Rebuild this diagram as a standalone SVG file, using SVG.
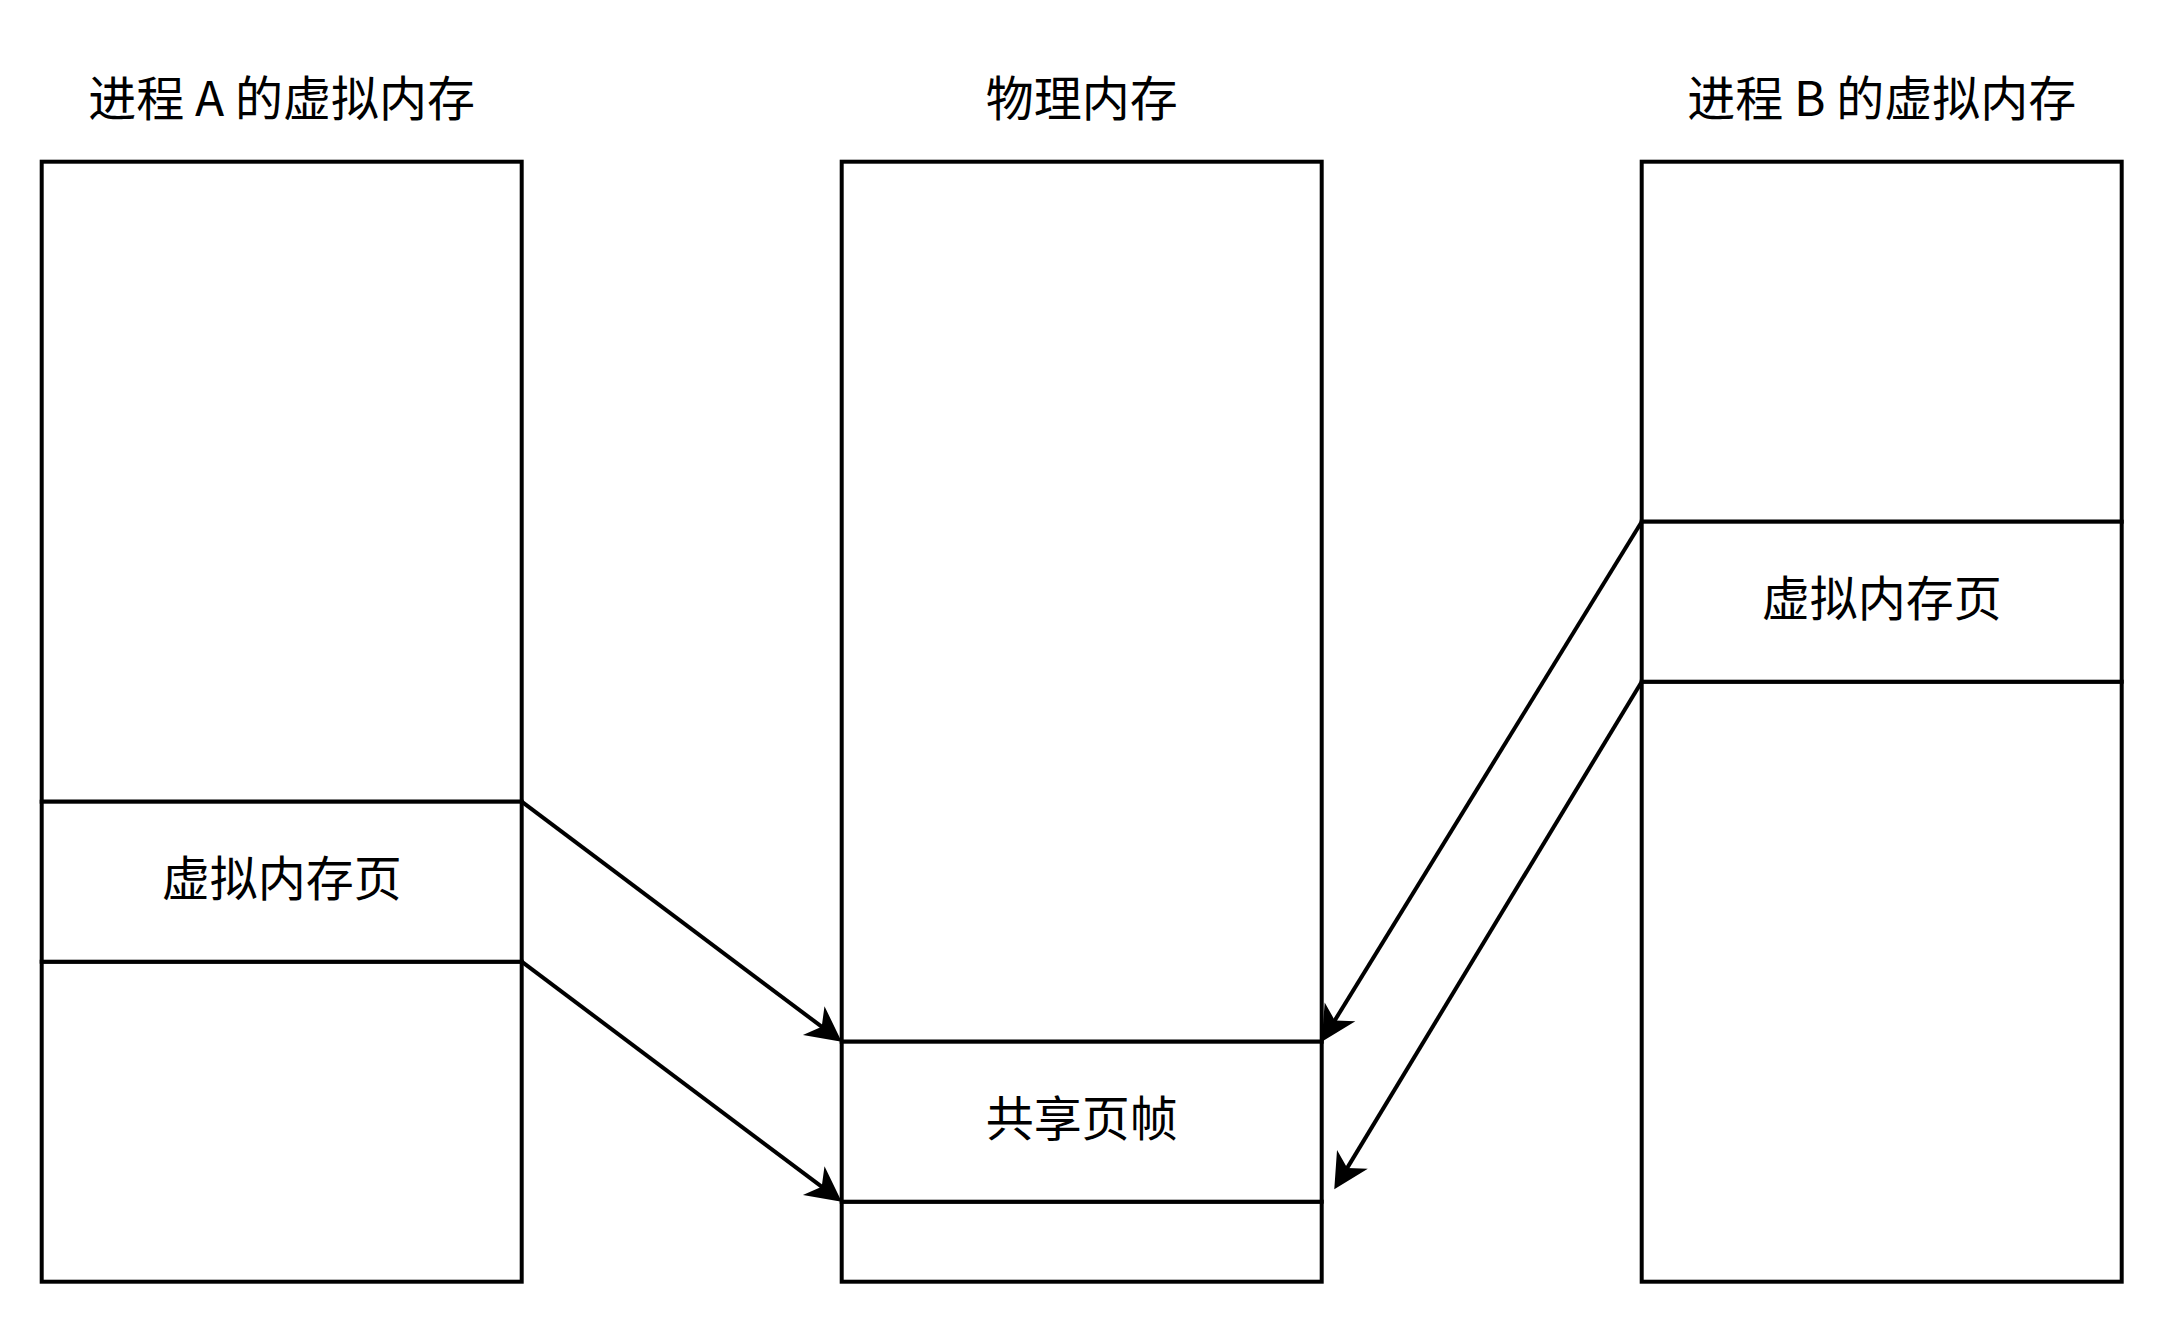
<svg xmlns="http://www.w3.org/2000/svg" width="2164" height="1324" viewBox="0 0 2164 1324">
<style>
.box{fill:#ffffff;stroke:#000000;stroke-width:4}
.lbl{font-family:"Noto Sans CJK SC","Noto Sans",sans-serif;font-size:48px;fill:#000000;text-anchor:middle}
.edge{fill:none;stroke:#000000;stroke-width:4;marker-end:url(#arrow)}
</style>
<defs>
<marker id="arrow" markerUnits="userSpaceOnUse" viewBox="-13 -19 38 38" markerWidth="38" markerHeight="38" refX="0" refY="0" orient="auto">
<path d="M23,0 L-12,-18 L-2,0 L-12,18 Z" fill="#000000"/>
</marker>
</defs>
<rect width="2164" height="1324" fill="#ffffff"/>
<g id="titleA"><text class="lbl" x="281.7" y="116">进程 A 的虚拟内存</text></g>
<g id="titlePhys"><text class="lbl" x="1081.7" y="116">物理内存</text></g>
<g id="titleB"><text class="lbl" x="1881.7" y="116">进程 B 的虚拟内存</text></g>
<g id="procA">
<rect class="box" x="41.7" y="161.7" width="480" height="640"/>
<rect class="box" x="41.7" y="961.7" width="480" height="320"/>
</g>
<g id="pageA">
<rect class="box" x="41.7" y="801.7" width="480" height="160"/>
<text class="lbl" x="281.7" y="895.5">虚拟内存页</text>
</g>
<g id="physMem">
<rect class="box" x="841.7" y="161.7" width="480" height="880"/>
<rect class="box" x="841.7" y="1201.7" width="480" height="80"/>
</g>
<g id="sharedFrame">
<rect class="box" x="841.7" y="1041.7" width="480" height="160"/>
<text class="lbl" x="1081.7" y="1136">共享页帧</text>
</g>
<g id="procB">
<rect class="box" x="1641.7" y="161.7" width="480" height="360"/>
<rect class="box" x="1641.7" y="681.7" width="480" height="600"/>
</g>
<g id="pageB">
<rect class="box" x="1641.7" y="521.7" width="480" height="160"/>
<text class="lbl" x="1881.7" y="615.5">虚拟内存页</text>
</g>
<g id="connectors">
<path class="edge" d="M521.7,801.7 L823.3,1027.9"/>
<path class="edge" d="M521.7,961.7 L823.3,1187.9"/>
<path class="edge" d="M1641.7,521.7 L1333.75,1022.1"/>
<path class="edge" d="M1641.7,681.7 L1346.2,1169.6"/>
</g>
</svg>
